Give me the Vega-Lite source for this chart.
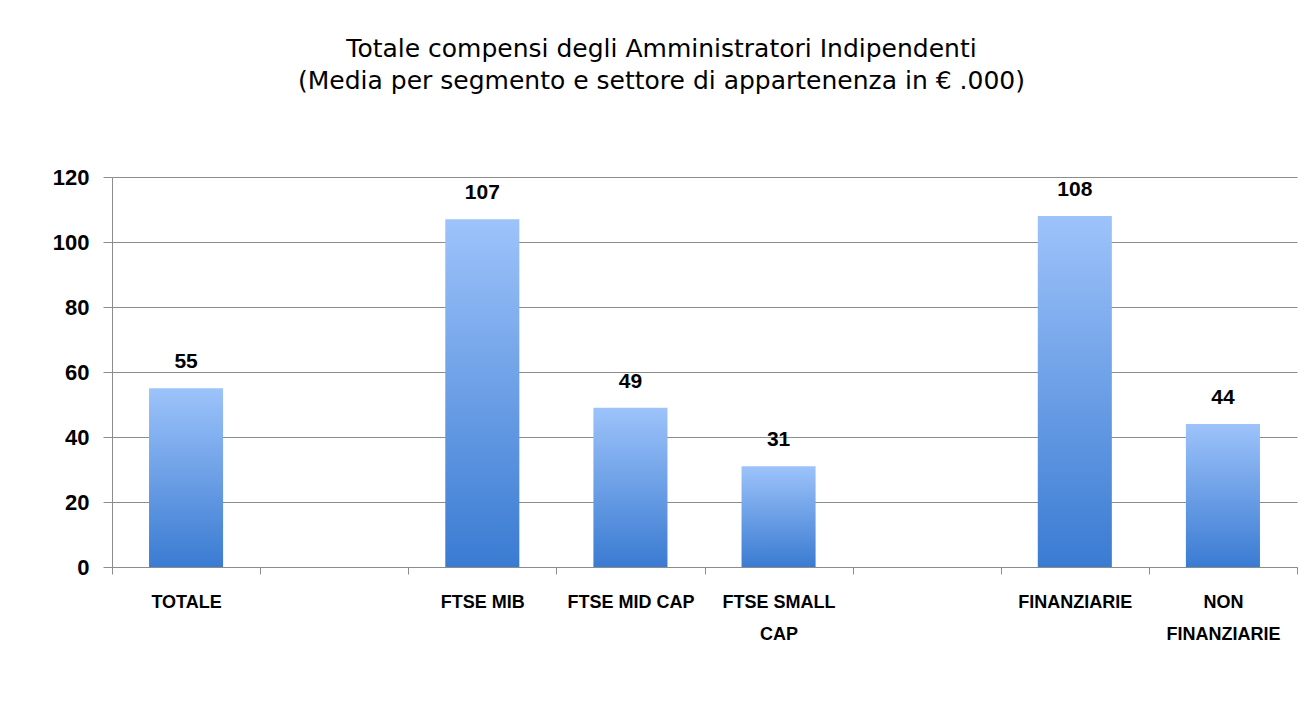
{
  "$schema": "https://vega.github.io/schema/vega-lite/v6.json",
  "width": 1185,
  "height": 390,
  "autosize": {"type": "none"},
  "padding": {"left": 112, "top": 177, "right": 19, "bottom": 153},
  "background": "white",
  "title": {
    "text": ["Totale compensi degli Amministratori Indipendenti", "(Media per segmento e settore di appartenenza in € .000)"],
    "font": "DejaVu Sans",
    "fontSize": 25,
    "fontWeight": "normal",
    "lineHeight": 32,
    "color": "#000000",
    "anchor": "middle",
    "dx": -43,
    "offset": 72
  },
  "data": {
    "values": [
      {"categoria": "TOTALE", "valore": 55},
      {"categoria": "FTSE MIB", "valore": 107},
      {"categoria": "FTSE MID CAP", "valore": 49},
      {"categoria": "FTSE SMALL|CAP", "valore": 31},
      {"categoria": "FINANZIARIE", "valore": 108},
      {"categoria": "NON|FINANZIARIE", "valore": 44}
    ]
  },
  "encoding": {
    "x": {
      "field": "categoria",
      "type": "nominal",
      "scale": {
        "domain": ["TOTALE", " ", "FTSE MIB", "FTSE MID CAP", "FTSE SMALL|CAP", "  ", "FINANZIARIE", "NON|FINANZIARIE"],
        "paddingInner": 0,
        "paddingOuter": 0
      },
      "axis": {
        "title": null,
        "labelAngle": 0,
        "tickBand": "extent",
        "labelFont": "Liberation Sans",
        "labelFontWeight": "bold",
        "labelFontSize": 18,
        "labelLineHeight": 32,
        "labelColor": "#000000",
        "labelPadding": 19,
        "labelLimit": 300,
        "domainColor": "#8c8c8c",
        "tickColor": "#8c8c8c",
        "tickSize": 7,
        "grid": false
      }
    },
    "y": {
      "field": "valore",
      "type": "quantitative",
      "scale": {"domain": [0, 120], "nice": false},
      "axis": {
        "title": null,
        "values": [0, 20, 40, 60, 80, 100, 120],
        "labelFont": "Liberation Sans",
        "labelFontWeight": "bold",
        "labelFontSize": 22,
        "labelColor": "#000000",
        "labelPadding": 14,
        "domainColor": "#8c8c8c",
        "tickColor": "#8c8c8c",
        "tickSize": 9,
        "gridColor": "#8c8c8c",
        "gridWidth": 1
      }
    }
  },
  "layer": [
    {
      "mark": {
        "type": "bar",
        "width": {"band": 0.5},
        "color": {
          "gradient": "linear",
          "x1": 0, "y1": 0, "x2": 0, "y2": 1,
          "stops": [
            {"offset": 0, "color": "#9dc3fa"},
            {"offset": 1, "color": "#3a7bd2"}
          ]
        }
      }
    },
    {
      "mark": {
        "type": "text",
        "baseline": "middle",
        "dy": -26,
        "font": "Liberation Sans",
        "fontWeight": "bold",
        "fontSize": 21,
        "color": "#000000"
      },
      "encoding": {"text": {"field": "valore", "type": "quantitative"}}
    }
  ],
  "config": {
    "view": {"stroke": null},
    "style": {
      "guide-label": {"lineBreak": "|"}
    }
  }
}
